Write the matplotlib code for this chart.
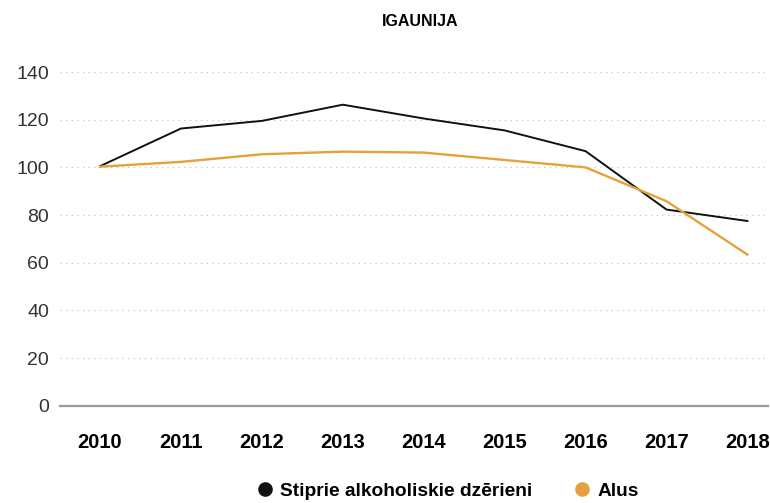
import matplotlib.pyplot as plt

years = [2010, 2011, 2012, 2013, 2014, 2015, 2016, 2017, 2018]
spirits = [100.5, 116.3, 119.5, 126.3, 120.5, 115.5, 106.8, 82.3, 77.5]
beer = [100.3, 102.3, 105.5, 106.6, 106.2, 103.1, 100.0, 85.8, 63.4]
series_names = ['Stiprie alkoholiskie dzērieni', 'Alus']

fig = plt.figure(figsize=(7.7, 5.03), dpi=100)
ax = fig.add_axes([0.078, 0.1934, 0.92, 0.6634])

ax.plot(years, spirits, color='#111111', lw=1.4, label=series_names[0])
ax.plot(years, beer, color='#E5A23C', lw=1.7, label=series_names[1])

ax.set_xlim(2009.506, 2018.26)
ax.set_ylim(0, 140)
ax.set_yticks(range(0, 141, 20))
ax.set_xticks(years)

for s in ['top', 'right', 'left']:
    ax.spines[s].set_visible(False)
ax.spines['bottom'].set_color('#9a9a9a')
ax.spines['bottom'].set_linewidth(1.6)
ax.spines['bottom'].set_zorder(5)

for v in range(20, 141, 20):
    ax.axhline(v, color='#c4c4c4', lw=0.9, ls=(0, (1, 3.5)), zorder=0)

ax.tick_params(axis='y', length=0, pad=8, labelsize=14, labelcolor='#333333')
ax.tick_params(axis='x', length=0, pad=20, labelsize=14.5)
for lab in ax.get_xticklabels():
    lab.set_fontweight('bold')
    lab.set_family(['Liberation Sans Narrow', 'Liberation Sans', 'DejaVu Sans'])
for lab in ax.get_yticklabels():
    lab.set_family(['Liberation Sans', 'DejaVu Sans'])

fig.text(420 / 770, 1 - 22 / 503, 'IGAUNIJA', ha='center', va='center',
         fontsize=11.5, fontweight='bold', family=['Liberation Sans', 'DejaVu Sans'])

handles = [plt.Line2D([], [], ls='none', marker='o', ms=9.5, color=c)
           for c in ['#111111', '#E5A23C']]
leg = fig.legend(handles, series_names, loc='center', ncol=2, frameon=False,
                 bbox_to_anchor=(446 / 770, 1 - 491 / 503), handletextpad=0.2,
                 columnspacing=2.0, handlelength=1.2,
                 prop={'size': 13.8, 'weight': 'bold',
                       'family': ['Liberation Sans Narrow', 'Liberation Sans', 'DejaVu Sans']})

fig.savefig('out.png', dpi=100)
